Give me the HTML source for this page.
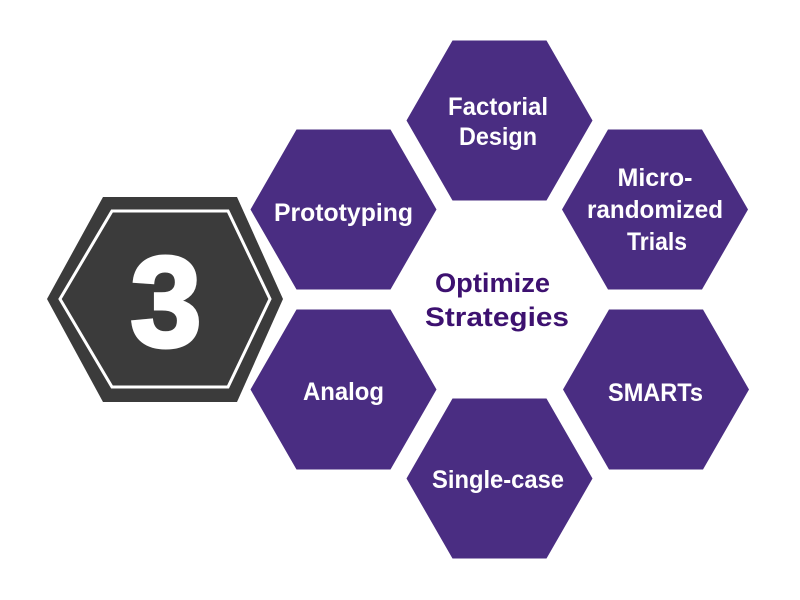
<!DOCTYPE html>
<html><head><meta charset="utf-8"><style>
html,body{margin:0;padding:0;background:#fff;}
svg{display:block;}
text{font-family:"Liberation Sans",sans-serif;}
</style></head><body>
<svg width="800" height="600" viewBox="0 0 800 600" xmlns="http://www.w3.org/2000/svg">
<defs>
<polygon id="h" points="-47,-80 47,-80 93,0 47,80 -47,80 -93,0"/>
</defs>
<polygon points="103,197 237,197 283,299 237,402 103,402 47,299" fill="#3b3b3b"/>
<polygon points="112,211 228,211 270,299 228,387 112,387 60,299" fill="none" stroke="#fff" stroke-width="3"/>
<text x="166" y="346" font-size="128" font-weight="bold" fill="#fff" stroke="#fff" stroke-width="4" text-anchor="middle">3</text>
<g fill="#4a2d82">
<use href="#h" x="499.5" y="120.5"/>
<use href="#h" x="343.5" y="209.5"/>
<use href="#h" x="655" y="209.5"/>
<use href="#h" x="343.5" y="389.5"/>
<use href="#h" x="656" y="389.5"/>
<use href="#h" x="499.5" y="478.5"/>
</g>
<g fill="#fff" font-size="25" font-weight="bold" text-anchor="middle" lengthAdjust="spacingAndGlyphs">
<text x="498" y="115" textLength="100" lengthAdjust="spacingAndGlyphs">Factorial</text>
<text x="498" y="145" textLength="78" lengthAdjust="spacingAndGlyphs">Design</text>
<text x="343.5" y="221" textLength="139" lengthAdjust="spacingAndGlyphs">Prototyping</text>
<text x="655" y="186" textLength="75" lengthAdjust="spacingAndGlyphs">Micro-</text>
<text x="655" y="218" textLength="136" lengthAdjust="spacingAndGlyphs">randomized</text>
<text x="657" y="250" textLength="60" lengthAdjust="spacingAndGlyphs">Trials</text>
<text x="343.5" y="400" textLength="81" lengthAdjust="spacingAndGlyphs">Analog</text>
<text x="655.5" y="401" textLength="95" lengthAdjust="spacingAndGlyphs">SMARTs</text>
<text x="498" y="488" textLength="132" lengthAdjust="spacingAndGlyphs">Single-case</text>
</g>
<g fill="#3d1170" font-size="27" font-weight="bold" text-anchor="middle">
<text x="492.5" y="292" textLength="115" lengthAdjust="spacingAndGlyphs">Optimize</text>
<text x="497" y="326" textLength="144" lengthAdjust="spacingAndGlyphs">Strategies</text>
</g>
</svg>
</body></html>
